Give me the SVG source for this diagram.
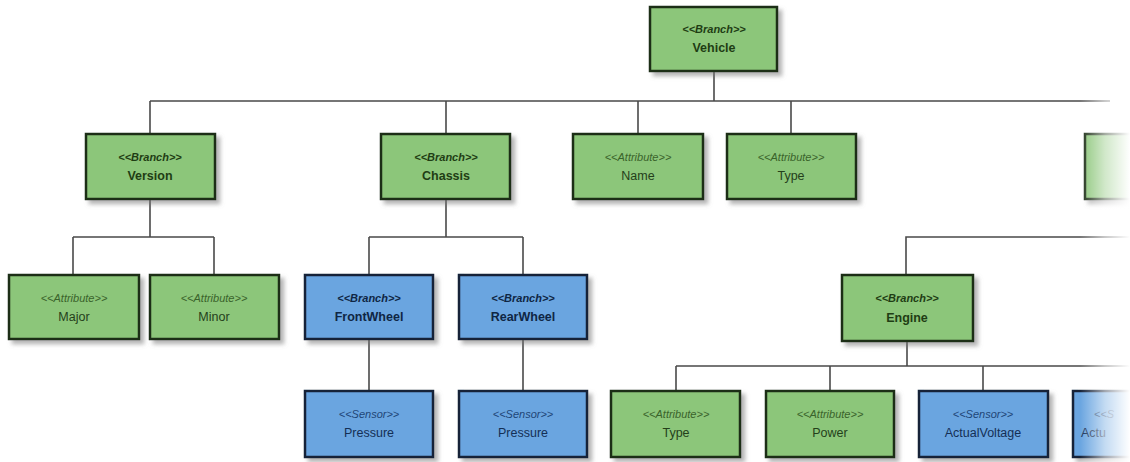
<svg xmlns="http://www.w3.org/2000/svg" width="1130" height="462" viewBox="0 0 1130 462">
<defs>
<filter id="sh" x="-10%" y="-10%" width="130%" height="140%">
<feDropShadow dx="4" dy="4" stdDeviation="2" flood-color="#777" flood-opacity="0.55"/>
</filter>
<linearGradient id="fade" x1="0" y1="0" x2="1" y2="0">
<stop offset="0" stop-color="#fff" stop-opacity="0"/>
<stop offset="0.5" stop-color="#fff" stop-opacity="0.6"/>
<stop offset="1" stop-color="#fff" stop-opacity="1"/>
</linearGradient>
</defs>
<style>
.g{fill:#8cc67a;stroke:#1c2e18;stroke-width:2.5;filter:url(#sh)}
.b{fill:#6aa5e0;stroke:#142338;stroke-width:2.5;filter:url(#sh)}
text{font-family:"Liberation Sans",Arial,sans-serif;font-size:12.5px;text-anchor:middle}
.st{font-style:italic;font-size:11px}
.gb{fill:#1f3d14;font-weight:bold}
.ga{fill:#243f1a}
.gs{fill:#3a632b}
.bb{fill:#0f2644;font-weight:bold}
.ba{fill:#142f55}
.bs{fill:#1f4577}
.c{fill:none;stroke:#4a4a4a;stroke-width:1.6}
</style>
<g id="connectors">
<path class="c" d="M714 71V101M150 101H1110M150 101V134M446 101V134M638 101V134M791 101V134"/>
<path class="c" d="M150 199V237M73 237H214M73 237V275M214 237V275"/>
<path class="c" d="M446 199V237M369 237H523M369 237V275M523 237V275"/>
<path class="c" d="M369 339V391M523 339V391"/>
<path class="c" d="M906 275V237H1130"/>
<path class="c" d="M907 341V366M676 366H1130M676 366V391M830 366V391M983 366V391"/>
</g>
<g id="vehicle"><rect class="g" x="650" y="7" width="127" height="64"/><text class="st gb" x="714" y="33">&lt;&lt;Branch&gt;&gt;</text><text class="gb" x="714" y="52">Vehicle</text></g>
<g id="version"><rect class="g" x="86" y="134" width="129" height="65"/><text class="st gb" x="150" y="161">&lt;&lt;Branch&gt;&gt;</text><text class="gb" x="150" y="180">Version</text></g>
<g id="chassis"><rect class="g" x="381" y="134" width="129" height="65"/><text class="st gb" x="446" y="161">&lt;&lt;Branch&gt;&gt;</text><text class="gb" x="446" y="180">Chassis</text></g>
<g id="name"><rect class="g" x="573" y="134" width="130" height="65"/><text class="st gs" x="638" y="161">&lt;&lt;Attribute&gt;&gt;</text><text class="ga" x="638" y="180">Name</text></g>
<g id="type1"><rect class="g" x="727" y="134" width="129" height="65"/><text class="st gs" x="791" y="161">&lt;&lt;Attribute&gt;&gt;</text><text class="ga" x="791" y="180">Type</text></g>
<g id="rightbranch"><rect class="g" x="1085" y="134" width="129" height="65"/></g>
<g id="major"><rect class="g" x="9" y="275" width="130" height="64"/><text class="st gs" x="74" y="302">&lt;&lt;Attribute&gt;&gt;</text><text class="ga" x="74" y="321">Major</text></g>
<g id="minor"><rect class="g" x="150" y="275" width="129" height="64"/><text class="st gs" x="214" y="302">&lt;&lt;Attribute&gt;&gt;</text><text class="ga" x="214" y="321">Minor</text></g>
<g id="frontwheel"><rect class="b" x="305" y="275" width="128" height="64"/><text class="st bb" x="369" y="302">&lt;&lt;Branch&gt;&gt;</text><text class="bb" x="369" y="321">FrontWheel</text></g>
<g id="rearwheel"><rect class="b" x="459" y="275" width="128" height="64"/><text class="st bb" x="523" y="302">&lt;&lt;Branch&gt;&gt;</text><text class="bb" x="523" y="321">RearWheel</text></g>
<g id="engine"><rect class="g" x="842" y="275" width="131" height="66"/><text class="st gb" x="907" y="302">&lt;&lt;Branch&gt;&gt;</text><text class="gb" x="907" y="322">Engine</text></g>
<g id="pressure1"><rect class="b" x="305" y="391" width="128" height="66"/><text class="st bs" x="369" y="418">&lt;&lt;Sensor&gt;&gt;</text><text class="ba" x="369" y="437">Pressure</text></g>
<g id="pressure2"><rect class="b" x="459" y="391" width="128" height="66"/><text class="st bs" x="523" y="418">&lt;&lt;Sensor&gt;&gt;</text><text class="ba" x="523" y="437">Pressure</text></g>
<g id="type2"><rect class="g" x="611" y="391" width="129" height="66"/><text class="st gs" x="676" y="418">&lt;&lt;Attribute&gt;&gt;</text><text class="ga" x="676" y="437">Type</text></g>
<g id="power"><rect class="g" x="766" y="391" width="128" height="66"/><text class="st gs" x="830" y="418">&lt;&lt;Attribute&gt;&gt;</text><text class="ga" x="830" y="437">Power</text></g>
<g id="actualvoltage"><rect class="b" x="919" y="391" width="129" height="66"/><text class="st bs" x="983" y="418">&lt;&lt;Sensor&gt;&gt;</text><text class="ba" x="983" y="437">ActualVoltage</text></g>
<g id="actual2"><rect class="b" x="1073" y="391" width="129" height="66"/><text class="st bs" x="1094" y="418" style="text-anchor:start">&lt;&lt;S</text><text class="ba" x="1081" y="437" style="text-anchor:start">Actu</text></g>
<rect x="1080" y="0" width="50" height="462" fill="url(#fade)"/>
</svg>
